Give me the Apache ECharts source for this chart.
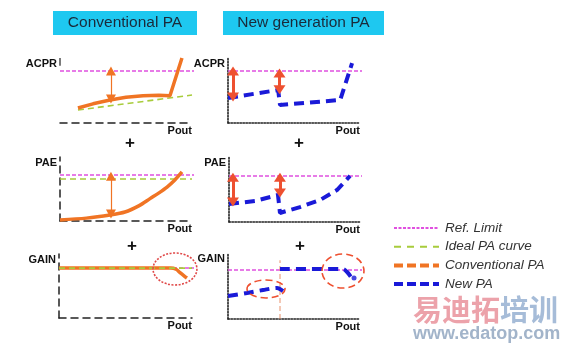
<!DOCTYPE html>
<html><head><meta charset="utf-8">
<script src="https://cdn.jsdelivr.net/npm/echarts@6/dist/echarts.min.js"></script>
<style>html,body{margin:0;padding:0;background:#fff}#c{width:567px;height:344px}</style>
</head><body><div id="c"></div>
<script>
// ---- data (abstract units, 0..100 on each panel) ----
const panelNames = ['ACPR','ACPR','PAE','PAE','GAIN','GAIN'];
const xName = 'Pout';
const titles = ['Conventional PA','New generation PA'];
const legendNames = ['Ref. Limit','Ideal PA curve','Conventional PA','New PA'];

const acprRefConv = [[0,80],[102,80]];
const acprIdealConv = [[13.6,20],[100,43]];
const acprConv = [[13.6,23],[25,29.5],[37.9,35.4],[50,39.5],[62.9,42],[75,42.6],[83.3,42],[92.4,100]];
const acprArrowConv = [[[38.6,80],[38.6,37]]];
const acprStub = [[0,100],[0,88]];

const acprRefNew = [[0,80],[104,80]];
const acprNew = [[0,38.5],[38,50.8],[39.4,48],[39.4,27.7],[85,35.4],[94,92]];
const acprArrowsNew = [[[3.8,80],[3.8,40]],[[39,77],[39,51]]];

const paeRefConv = [[0,71.9],[102,71.9]];
const paeIdealConv = [[0,65.6],[100,65.6]];
const paeConv = [[0,1.6],[20,4.5],[37.9,9.4],[49.2,14],[60,24],[68.2,35],[75,44],[81.1,53],[87,64],[92.4,76.6]];
const paeArrowConv = [[[38.6,70],[38.6,11]]];

const paeRefNew = [[0,70.8],[104,70.8]];
const paeNew = [[0,27.7],[19.8,32.3],[37.4,41.5],[38.9,41.5],[38.9,13.8],[41.2,15.4],[54.2,23],[69.5,33.8],[82.4,49.2],[92.4,70.8]];
const paeArrowsNew = [[[3,69],[3,30.8]],[[38.9,69],[38.9,44.6]]];

const gainRefConv = [[0,78],[102,78]];
const gainIdealConv = [[0,78],[100,78]];
const gainConv = [[0,78],[84,78],[88,76.2],[91,71],[94,66],[96.2,62.5]];
const gainEllipseConv = [[87.2,76.6,16.5,25]];

const gainRefNew = [[0,74.2],[104,74.2]];
const gainNewLow = [[0,34.8],[14.4,39.4],[26.5,43.9],[37.1,47],[41.7,42.4]];
const gainNewHigh = [[39.4,75.8],[87.1,75.8],[90.9,69.7],[93.2,63.6]];
const gainNewDot = [[95.5,62]];
const gainMarker = [[39.4,0],[39.4,89]];
const gainEllipsesNew = [[28.8,45.5,14.4,13.6],[87.1,72.7,15.9,25.8]];

// ---- styles ----
const PINK='#e050e0', GREEN='#a8cc3c', ORANGE='#f07424', BLUE='#1a1ad8', RED='#ee5030';
const grids = [
  {left:60, top:58, width:132, height:65},
  {left:228, top:58, width:132, height:65},
  {left:60, top:157, width:132, height:64},
  {left:229, top:157, width:131, height:65},
  {left:59, top:254, width:133, height:64},
  {left:228, top:253, width:132, height:66}
];
const isNew = i => i % 2 === 1;
function axisLineStyle(i){
  return isNew(i) ? {color:'#222', width:1.6, type:[1.5,1.5]} : {color:'#222', width:1.5, type:[7,5]};
}
const nameFont = {fontFamily:'Liberation Sans, Arial', fontWeight:'bold', fontSize:11, color:'#111'};
const xAxis = grids.map((g,i)=>({
  gridIndex:i, type:'value', min:0, max:100,
  axisLine:{show:true, onZero:false, lineStyle:axisLineStyle(i)},
  axisTick:{show:false}, axisLabel:{show:false}, splitLine:{show:false},
  name:xName, nameLocation:'end', nameGap:0,
  nameTextStyle:Object.assign({align:'right', verticalAlign:'top', padding:[2,0,0,0]}, nameFont)
}));
const yAxis = grids.map((g,i)=>({
  gridIndex:i, type:'value', min:0, max:100,
  axisLine:{show: i!==0, lineStyle:axisLineStyle(i)},
  axisTick:{show:false}, axisLabel:{show:false}, splitLine:{show:false},
  name:panelNames[i], nameLocation:'end', nameGap:-6,
  nameTextStyle:Object.assign({align:'right', verticalAlign:'middle', padding:[0,3,0,0]}, nameFont)
}));

function line(gi, name, data, color, width, type, extra){
  return Object.assign({
    type:'line', name, xAxisIndex:gi, yAxisIndex:gi, data, symbol:'none',
    clip:false, silent:true, animation:false,
    lineStyle:{color, width, type}, itemStyle:{color}
  }, extra||{});
}
function arrows(list, color, width, size){
  return {silent:true, animation:false, symbol:['triangle','triangle'], symbolSize:size,
    label:{show:false}, emphasis:{disabled:true},
    lineStyle:{color, width, type:'solid'}, itemStyle:{color},
    data:list.map(a=>[{coord:a[0]},{coord:a[1]}])};
}
function ellipses(gi, data, color, dash, width){
  return {type:'custom', xAxisIndex:gi, yAxisIndex:gi, data, silent:true, animation:false, z:5,
    renderItem:(p, api)=>{
      const c = api.coord([api.value(0), api.value(1)]);
      const s = api.size([api.value(2), api.value(3)]);
      return {type:'ellipse', shape:{cx:c[0], cy:c[1], rx:s[0], ry:s[1]},
        style:{fill:'none', stroke:color, lineWidth:width, lineDash:dash}};
    }};
}
const refStyle = [4,2];
const series = [
  // ACPR conventional
  line(0,'Ref. Limit',acprRefConv,PINK,1.5,refStyle,{markLine:arrows(acprArrowConv,ORANGE,1.2,[10,9])}),
  line(0,'Ideal PA curve',acprIdealConv,GREEN,1.6,[6,4]),
  line(0,'Conventional PA',acprConv,ORANGE,3.5,'solid'),
  line(0,'stub',acprStub,'#222',1.2,'solid'),
  // ACPR new
  line(1,'Ref. Limit',acprRefNew,PINK,1.5,refStyle,{markLine:arrows(acprArrowsNew,RED,3,[12,9])}),
  line(1,'New PA',acprNew,BLUE,4,[10,6]),
  // PAE conventional
  line(2,'Ref. Limit',paeRefConv,PINK,1.5,refStyle,{markLine:arrows(paeArrowConv,ORANGE,1.2,[10,9])}),
  line(2,'Ideal PA curve',paeIdealConv,GREEN,1.6,[6,4]),
  line(2,'Conventional PA',paeConv,ORANGE,3.5,'solid',{smooth:0.3}),
  // PAE new
  line(3,'Ref. Limit',paeRefNew,PINK,1.5,refStyle,{markLine:arrows(paeArrowsNew,RED,3,[12,9])}),
  line(3,'New PA',paeNew,BLUE,4,[10,6]),
  // GAIN conventional
  line(4,'Ref. Limit',gainRefConv,PINK,1.5,refStyle),
  line(4,'Conventional PA',gainConv,ORANGE,3.5,'solid',{smooth:0.3}),
  line(4,'Ideal PA curve',gainIdealConv,GREEN,1.6,[6,4]),
  ellipses(4,gainEllipseConv,'#e04848',[2,1.5],1.6),
  // GAIN new
  line(5,'Ref. Limit',gainRefNew,PINK,1.5,refStyle),
  line(5,'marker',gainMarker,'#e8906a',1,[5,3]),
  line(5,'New PA',gainNewLow,BLUE,4,[10,6],{smooth:0.3}),
  line(5,'New PA',gainNewHigh,BLUE,4,[10,6],{smooth:0.3}),
  {type:'scatter', xAxisIndex:5, yAxisIndex:5, data:gainNewDot, symbolSize:5, itemStyle:{color:BLUE}, silent:true, animation:false},
  ellipses(5,gainEllipsesNew,RED,[7,4],1.6)
];

const legendStyles = {
  'Ref. Limit':{color:PINK, type:[3,1.5], width:2},
  'Ideal PA curve':{color:GREEN, type:[7,6], width:2},
  'Conventional PA':{color:ORANGE, type:[9,4], width:4},
  'New PA':{color:BLUE, type:[9,4], width:4}
};

const option = {
  animation:false,
  grid:grids,
  xAxis, yAxis, series,
  legend:{
    orient:'vertical', left:387, top:216, itemWidth:45, itemHeight:14, itemGap:4.7,
    selectedMode:false,
    data:legendNames.map(n=>({name:n, lineStyle:legendStyles[n], itemStyle:{opacity:0}})),
    textStyle:{fontFamily:'Liberation Sans, Arial', fontStyle:'italic', fontSize:13.5, color:'#333', padding:[0,0,0,1]}
  },
  graphic:[
    {type:'rect', left:53, top:11, shape:{width:144, height:24}, style:{fill:'#1ec8f0'}},
    {type:'rect', left:223, top:11, shape:{width:161, height:24}, style:{fill:'#1ec8f0'}},
    {type:'text', x:125, y:23, style:{text:titles[0], textAlign:'center', textVerticalAlign:'middle', font:'15.5px "Liberation Sans", Arial', fill:'#1a2a3a'}},
    {type:'text', x:303.5, y:23, style:{text:titles[1], textAlign:'center', textVerticalAlign:'middle', font:'15.5px "Liberation Sans", Arial', fill:'#1a2a3a'}},
    {type:'text', x:130, y:143, style:{text:'+', textAlign:'center', textVerticalAlign:'middle', font:'bold 17px "Liberation Sans", Arial', fill:'#111'}},
    {type:'text', x:299, y:143, style:{text:'+', textAlign:'center', textVerticalAlign:'middle', font:'bold 17px "Liberation Sans", Arial', fill:'#111'}},
    {type:'text', x:132, y:246, style:{text:'+', textAlign:'center', textVerticalAlign:'middle', font:'bold 17px "Liberation Sans", Arial', fill:'#111'}},
    {type:'text', x:300, y:246, style:{text:'+', textAlign:'center', textVerticalAlign:'middle', font:'bold 17px "Liberation Sans", Arial', fill:'#111'}},
    {type:'text', x:413, y:310, style:{text:'{a|易迪拓}{b|培训}', textVerticalAlign:'middle',
      rich:{a:{fill:'#eca2aa', font:'bold 29px "Noto Sans CJK SC"'}, b:{fill:'#a6bcd8', font:'bold 29px "Noto Sans CJK SC"'}}}},
    {type:'text', x:413, y:334, style:{text:'www.edatop.com', textVerticalAlign:'middle', font:'bold 18px "Liberation Sans", Arial', fill:'#a2b4ca'}}
  ]
};
const chart = echarts.init(document.getElementById('c'), null, {renderer:'canvas'});
chart.setOption(option);
</script></body></html>
